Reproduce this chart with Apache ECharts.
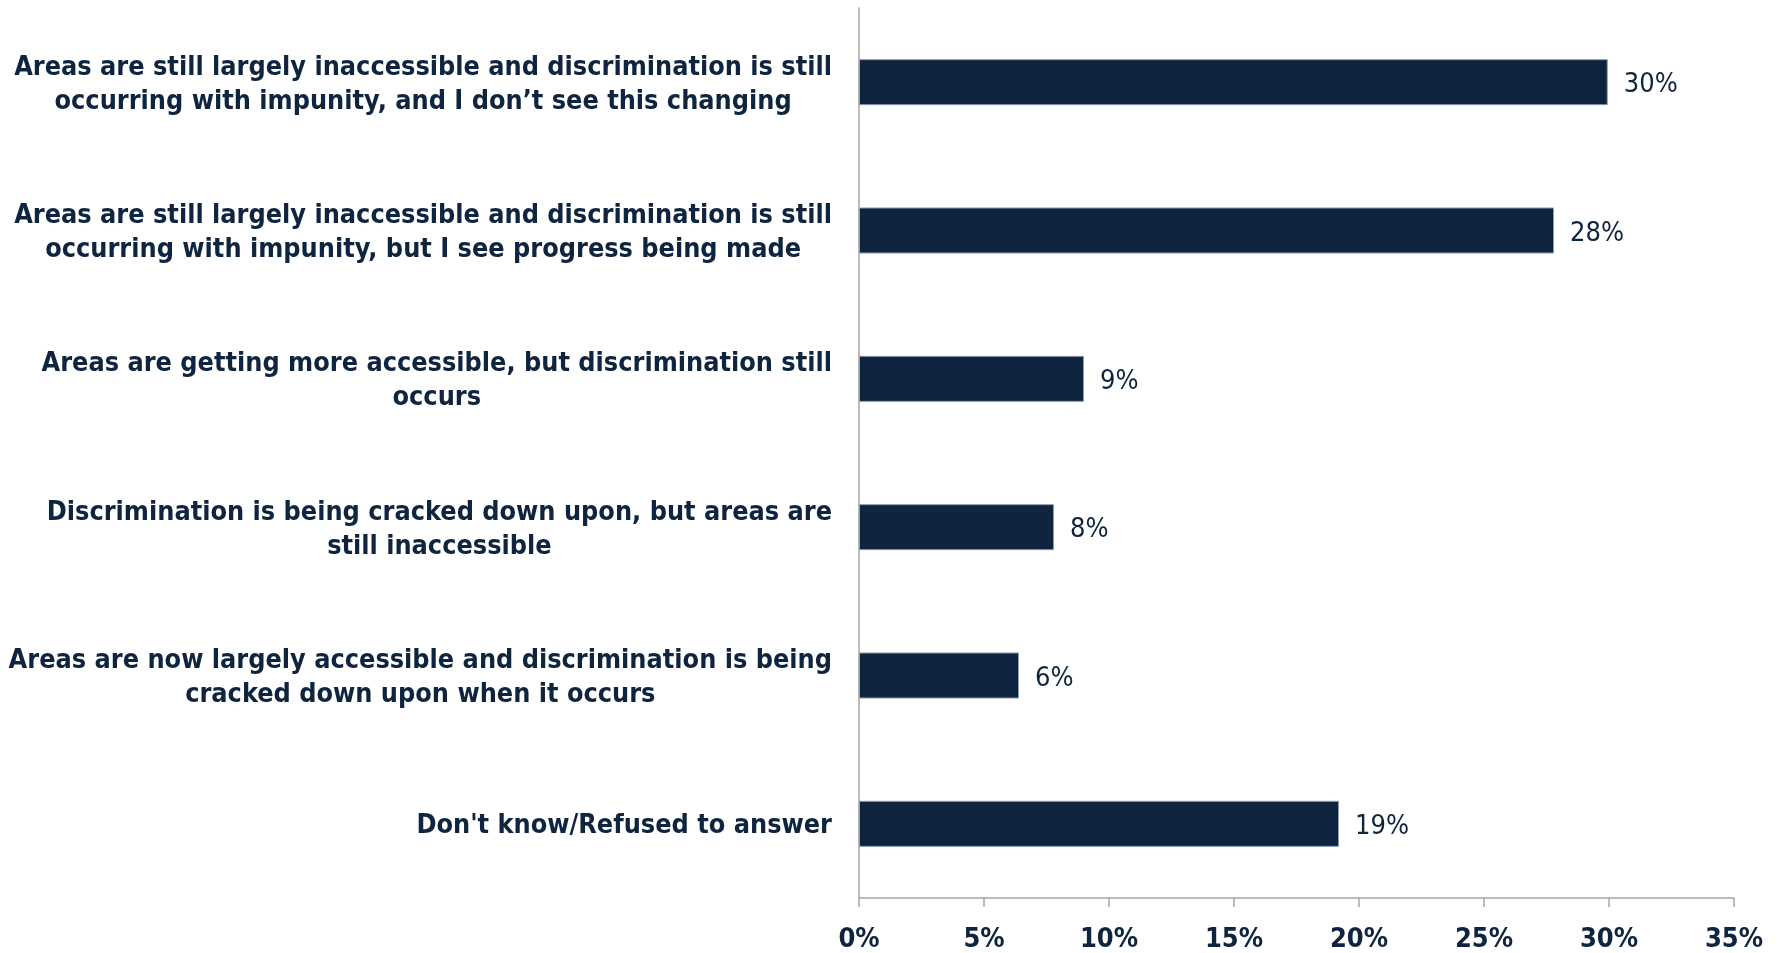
<!DOCTYPE html>
<html>
<head>
<meta charset="utf-8">
<script src="https://cdn.jsdelivr.net/npm/echarts@6/dist/echarts.min.js"></script>
<style>
html,body{margin:0;padding:0;background:#fff;}
#chart{width:1783px;height:953px;}
</style>
</head>
<body>
<div id="chart"></div>
<script>
const categories = [
  "Areas are still largely inaccessible and discrimination is still\noccurring with impunity, and I don\u2019t see this changing",
  "Areas are still largely inaccessible and discrimination is still\noccurring with impunity, but I see progress being made",
  "Areas are getting more accessible, but discrimination still\noccurs",
  "Discrimination is being cracked down upon, but areas are\nstill inaccessible",
  "Areas are now largely accessible and discrimination is being\ncracked down upon when it occurs",
  "Don't know/Refused to answer"
];
const values = [29.95, 27.8, 9.0, 7.8, 6.4, 19.2];
const axisMin = 0, axisMax = 35, axisStep = 5;

const navy = '#0F243E';
const fontFam = '"DejaVu Sans Condensed", "DejaVu Sans", sans-serif';

const chart = echarts.init(document.getElementById('chart'));
chart.setOption({
  animation: false,
  backgroundColor: '#ffffff',
  grid: { left: 859, right: 49, top: 8, bottom: 52, containLabel: false },
  xAxis: {
    type: 'value', min: axisMin, max: axisMax, interval: axisStep,
    axisLine: { show: true, lineStyle: { color: '#A6A6A6', width: 1.5 } },
    axisTick: { show: true, length: 9, lineStyle: { color: '#A6A6A6', width: 1.5 } },
    splitLine: { show: false },
    axisLabel: {
      margin: 28, color: navy, fontFamily: fontFam, fontWeight: 'bold', fontSize: 27,
      formatter: v => v + '%'
    }
  },
  yAxis: {
    type: 'category', data: categories, inverse: true,
    axisLine: { show: true, lineStyle: { color: '#A6A6A6', width: 1.5 } },
    axisTick: { show: false },
    axisLabel: {
      margin: 27, color: navy, align: 'right', padding: [5, 0, 0, 0],
      formatter: v => v.split('\n').map(s => '{c|' + s + '}').join('\n'),
      rich: { c: { align: 'center', color: navy, fontFamily: fontFam, fontWeight: 'bold', fontSize: 26.8, lineHeight: 34 } }
    }
  },
  series: [{
    type: 'bar', data: values, barWidth: 46,
    itemStyle: { color: navy, borderColor: '#8C9BB0', borderWidth: 1 },
    label: {
      show: true, position: 'right', distance: 16, color: navy,
      fontFamily: fontFam, fontSize: 27, offset: [0, 3],
      formatter: p => Math.round(p.value) + '%'
    }
  }]
});
</script>
</body>
</html>
